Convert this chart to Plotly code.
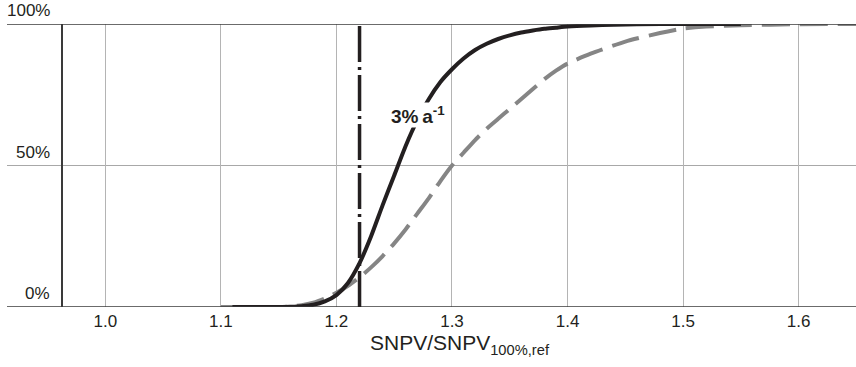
import plotly.graph_objects as go

# Data
black_x = [1.11, 1.13, 1.15, 1.16, 1.17, 1.18, 1.19, 1.20, 1.21, 1.22, 1.23, 1.24, 1.25, 1.26, 1.27,
           1.28, 1.29, 1.30, 1.31, 1.32, 1.33, 1.34, 1.35, 1.36, 1.37, 1.38, 1.39, 1.40, 1.42,
           1.44, 1.46, 1.50, 1.55]
black_y = [0, 0, 0, 0.1, 0.3, 0.8, 2.0, 4.2, 8.5, 15.5, 25, 36, 46.5, 57, 66,
           73.5, 79.5, 84, 87.8, 90.8, 93, 94.7, 96, 97, 97.7, 98.3, 98.7, 99.1, 99.5,
           99.75, 99.9, 100, 100]

gray_x = [1.10, 1.13, 1.15, 1.16, 1.17, 1.18, 1.19, 1.20, 1.21, 1.22, 1.23, 1.24, 1.25, 1.26, 1.27,
          1.28, 1.29, 1.30, 1.31, 1.32, 1.33, 1.34, 1.35, 1.36, 1.37, 1.38, 1.39, 1.40, 1.42,
          1.45, 1.48, 1.50, 1.52, 1.55, 1.60, 1.65]
gray_y = [0, 0, 0, 0.2, 0.6, 1.5, 3, 5, 7.5, 10.5, 14, 18, 22.5, 27.5, 33,
          38.5, 44.5, 50, 54.5, 59, 63, 66.5, 70, 73.5, 77, 80.5, 83.5, 86, 89.5,
          93.8, 96.8, 98.4, 99.1, 99.6, 99.9, 100]

threshold_x = 1.22
x_ticks = [1.0, 1.1, 1.2, 1.3, 1.4, 1.5, 1.6]
x_ticklabels = ["1.0", "1.1", "1.2", "1.3", "1.4", "1.5", "1.6"]
y_levels = [0, 50, 100]
y_labels = ["0%", "50%", "100%"]

DARK = "#231f20"
FONT = "Arial, 'Liberation Sans', Helvetica, sans-serif"

fig = go.Figure()
fig.add_trace(go.Scatter(x=gray_x, y=gray_y, mode="lines",
                         line=dict(color="#858585", width=4, dash="28px,10px",
                                   shape="spline", smoothing=0.6),
                         hoverinfo="skip", showlegend=False))
fig.add_trace(go.Scatter(x=black_x, y=black_y, mode="lines",
                         line=dict(color=DARK, width=4, shape="spline", smoothing=0.6),
                         hoverinfo="skip", showlegend=False))

W, H = 856, 367
L, R, T, B = 63, 0, 24, 60
pw = W - L - R
left_ext = (7 - L) / pw

shapes = []
for lv in y_levels:
    col = "#a8a8a8" if lv == 50 else "#3a3a3a"
    wd = 1 if lv == 50 else 1.5
    shapes.append(dict(type="line", xref="paper", yref="y", x0=left_ext, x1=1,
                       y0=lv, y1=lv, line=dict(color=col, width=wd),
                       layer="below" if lv == 50 else "above"))
shapes.append(dict(type="line", xref="x", yref="y", x0=threshold_x, x1=threshold_x, y0=0, y1=100,
                   line=dict(color=DARK, width=3.5, dash="36px,5px,3px,5px"), layer="above"))

annotations = []
for lv, lab in zip(y_levels, y_labels):
    annotations.append(dict(xref="paper", yref="y", x=(52 - L) / pw, y=lv, xanchor="right",
                            yanchor="bottom", yshift=2, text=lab, showarrow=False,
                            font=dict(family=FONT, size=17, color=DARK)))
annotations.append(dict(xref="x", yref="y", x=1.271, y=67.8, text="<b>3%\u2009a<sup>-1</sup></b>",
                        showarrow=False, bgcolor="white", borderpad=0,
                        font=dict(family=FONT, size=19, color=DARK)))

fig.update_layout(
    width=W, height=H,
    margin=dict(l=L, r=R, t=T, b=B, pad=0),
    paper_bgcolor="white", plot_bgcolor="white",
    shapes=shapes, annotations=annotations,
    xaxis=dict(range=[0.9634, 1.6496], tickvals=x_ticks, ticktext=x_ticklabels,
               showgrid=True, gridcolor="#b4b4b4", gridwidth=1, zeroline=False,
               showline=False, ticks="", ticklabelstandoff=2, automargin=False,
               tickfont=dict(family=FONT, size=17, color=DARK),
               title=dict(text="SNPV/SNPV<sub>100%,ref</sub>", standoff=5,
                          font=dict(family=FONT, size=21, color=DARK))),
    yaxis=dict(range=[0, 100], showgrid=False, zeroline=False, showticklabels=False,
               showline=True, linecolor="#3a3a3a", linewidth=1.5, ticks="", automargin=False),
    showlegend=False,
)

fig.write_html("out.html", config={"displayModeBar": False},
               post_script="document.body.style.margin='0';document.body.style.overflow='hidden';")
